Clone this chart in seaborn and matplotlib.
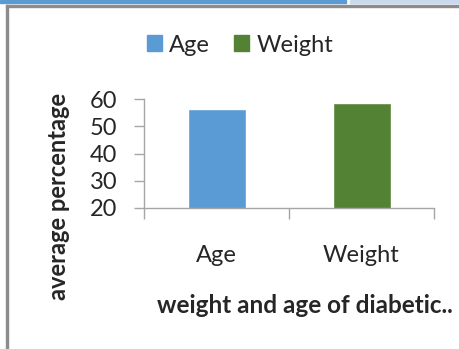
import matplotlib
matplotlib.use("Agg")
import matplotlib.pyplot as plt
import matplotlib.patches as mpatches
import pandas as pd
import seaborn as sns

# Chart data
categories = ["Age", "Weight"]
values = [56.4, 58.6]
colors = ["#5B9BD5", "#548235"]
y_ticks = [20, 30, 40, 50, 60]

df = pd.DataFrame({"category": categories, "value": values})

sns.set_style("white")
plt.rcParams["font.family"] = ["Lato", "DejaVu Sans"]

fig = plt.figure(figsize=(4.59, 3.49), dpi=100)

# page decorations: blue strip on top and grey frame
fig.patches.append(mpatches.Rectangle((0, 1 - 3 / 349), 346 / 459, 3 / 349,
                                      transform=fig.transFigure, color="#5B9BD5"))
fig.patches.append(mpatches.Rectangle((350 / 459, 1 - 3 / 349), 109 / 459, 3 / 349,
                                      transform=fig.transFigure, color="#C9DAF0"))
fig.patches.append(mpatches.Rectangle((6 / 459, 0), 2 / 459, 1 - 5 / 349,
                                      transform=fig.transFigure, color="#8C8C8C"))
fig.patches.append(mpatches.Rectangle((6 / 459, 1 - 7 / 349), 453 / 459, 2 / 349,
                                      transform=fig.transFigure, color="#8C8C8C"))

ax = fig.add_axes([144 / 459, 1 - 207.7 / 349, 290 / 459, 108.4 / 349])
sns.barplot(data=df, x="category", y="value", hue="category", palette=colors,
            width=0.4, saturation=1, ax=ax, legend=False)

ax.set_ylim(20, 60)
ax.set_xlim(-0.5, 1.5)
ax.set_yticks(y_ticks)
ax.set_xticks([0, 1])
ax.set_xticklabels(categories)
ax.set_xticks([-0.5, 0.5, 1.5], minor=True)

for s in ["top", "right"]:
    ax.spines[s].set_visible(False)
for s in ["left", "bottom"]:
    ax.spines[s].set_color("#A6A6A6")
    ax.spines[s].set_linewidth(1)

ax.tick_params(axis="y", which="major", length=7, color="#A6A6A6", width=1,
               labelsize=17, pad=12, left=True)
ax.tick_params(axis="x", which="major", length=0, labelsize=17, pad=27)
ax.tick_params(axis="x", which="minor", length=8, color="#A6A6A6", width=1,
               bottom=True, direction="out")

ax.set_xlabel("weight and age of diabetic..", fontsize=17.5, fontweight="bold")
ax.set_ylabel("average percentage", fontsize=17, fontweight="bold")
ax.xaxis.set_label_coords(0.555, -0.80)
ax.yaxis.set_label_coords(-0.255, 0.10)

handles = [mpatches.Patch(color=c, label=l) for c, l in zip(colors, categories)]
ax.legend(handles=handles, loc="center", bbox_to_anchor=(0.331, 1.50), ncol=2,
          frameon=False, fontsize=17, handlelength=0.65, handleheight=0.65,
          handletextpad=0.3, columnspacing=1.0)

fig.savefig("out.png", dpi=100)
